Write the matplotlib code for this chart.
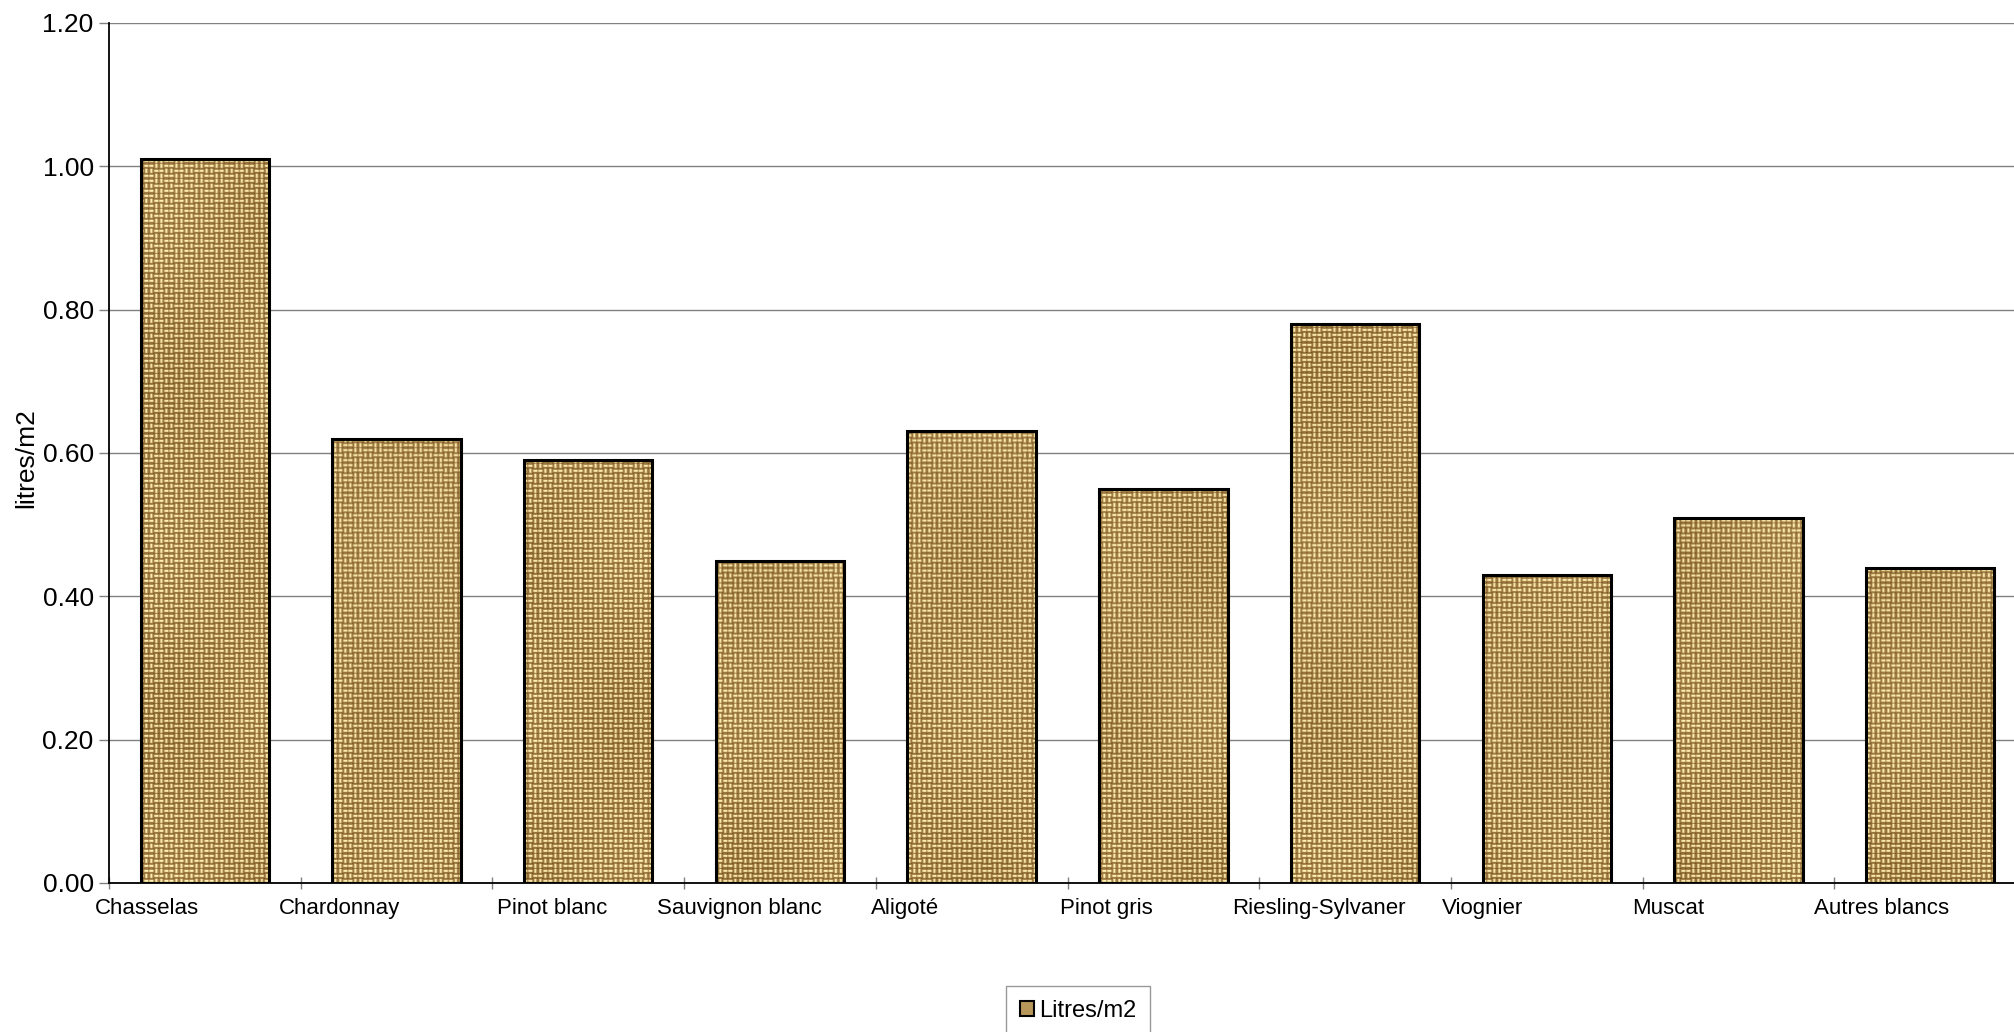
import matplotlib
matplotlib.use('Agg')
import matplotlib.pyplot as plt
from matplotlib.patches import Patch
import matplotlib.transforms as mtrans
import numpy as np

plt.rcParams['font.family'] = ['Liberation Sans', 'DejaVu Sans']

cepages = ['Chasselas', 'Chardonnay', 'Pinot blanc', 'Sauvignon blanc', 'Aligoté',
           'Pinot gris', 'Riesling-Sylvaner', 'Viognier', 'Muscat', 'Autres blancs']
litres_m2 = [1.01, 0.62, 0.59, 0.45, 0.63, 0.55, 0.78, 0.43, 0.51, 0.44]
yticks = [0.0, 0.2, 0.4, 0.6, 0.8, 1.0, 1.2]
# small pixel nudges of the category labels (Excel places them a bit irregularly)
label_nudge = [-14, -22, 5, -27, -5, -7, -27, -9, -10, -20]

fig = plt.figure(figsize=(20.15, 10.32), dpi=100)
ax = fig.add_axes([109 / 2015, 149 / 1032, 1917 / 2015, 860 / 1032])

x = np.arange(len(cepages))
bars = ax.bar(x, litres_m2, width=0.67, color='#b8975a', edgecolor='black',
              linewidth=2.2, zorder=3)

# burlap-like weave texture, clipped into every bar
H, W = 860, 1920
yy, xx = np.mgrid[0:H, 0:W]
cell = 5
ci, cj = yy // cell, xx // cell
u, v = xx % cell, yy % cell
orient = ((ci + cj) % 2) ^ ((ci // 3 + cj // 2) % 2)
horiz = ((v == 1) | (v == 2)) & (u < 4)
vert = ((u == 1) | (u == 2)) & (v < 4)
light = np.where(orient == 0, horiz, vert).astype(float)
dark = ((u == 4) & (v == 4)).astype(float)
light = (light + np.roll(light, 1, 0) * 0.2 + np.roll(light, 1, 1) * 0.2) / 1.25
shade = 0.025 * np.sin(xx / 37.0) * np.cos(yy / 53.0)
base = np.array([0.60, 0.46, 0.24])
hi = np.array([0.96, 0.88, 0.64])
lo = np.array([0.36, 0.25, 0.10])
tex = base[None, None, :] + light[..., None] * (hi - base)[None, None, :]
tex = tex + dark[..., None] * (lo - base)[None, None, :] * 0.8
tex = np.clip(tex + shade[..., None], 0, 1)

for b in bars:
    im = ax.imshow(tex, extent=[-0.5, 9.5, 0, 1.2], origin='lower',
                   interpolation='antialiased', aspect='auto', zorder=2.5)
    im.set_clip_path(b)
    b.set_facecolor('none')

ax.set_xlim(-0.5, 9.5)
ax.set_ylim(0, 1.2)
ax.set_aspect('auto')
ax.set_yticks(yticks)
ax.set_yticklabels(['%.2f' % t for t in yticks], fontsize=19)
ax.yaxis.grid(True, color='#808080', linewidth=1.0, zorder=0)
ax.set_axisbelow(True)

ax.set_xticks(x - 0.5)
ax.set_xticklabels([])
ax.tick_params(axis='x', direction='inout', length=9, color='#808080', width=1)
ax.tick_params(axis='y', direction='out', length=7, color='#808080', width=1, pad=4)

for i, name in enumerate(cepages):
    off = mtrans.offset_copy(ax.transData, fig=fig, x=label_nudge[i], y=-15, units='dots')
    ax.text(i - 0.5, 0, name, transform=off, fontsize=16, ha='left', va='top')

for s in ['top', 'right']:
    ax.spines[s].set_visible(False)
ax.spines['left'].set_linewidth(1.3)
ax.spines['bottom'].set_linewidth(1.3)

ax.set_ylabel('litres/m2', fontsize=19, va='center')
ax.yaxis.set_label_coords(-0.043, 0.494)

handle = Patch(facecolor='#b8975a', edgecolor='black', linewidth=1.5)
fig.legend([handle], ['Litres/m2'], loc='upper center', bbox_to_anchor=(0.535, 0.0446),
           fontsize=17, frameon=True, fancybox=False, edgecolor='#808080',
           handlelength=0.6, handleheight=0.6, handletextpad=0.2, borderpad=0.6,
           borderaxespad=0)

fig.savefig('out.png', dpi=100)
